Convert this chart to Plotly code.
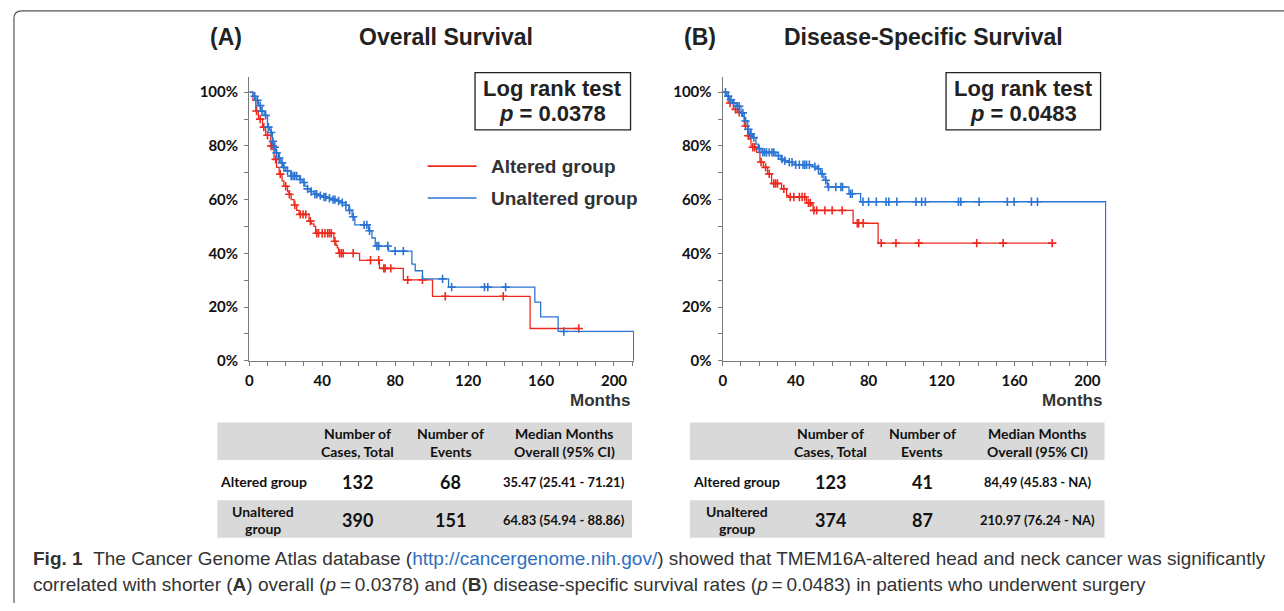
import numpy as np
import plotly.graph_objects as go

W, H = 1284, 611

# ---------------- Data ----------------
# Panel A: Overall survival (months, % surviving)
os_alt_t = [0, 2, 3.6, 5, 7.3, 9, 11.8, 13.6, 15, 16.4, 18, 19, 21, 21.8, 23, 24.6, 26, 27.3,
            32.8, 34, 35.5, 36.4, 46.4, 47.5, 48.3, 49, 60.5, 71.4, 84.5, 100.5, 154]
os_alt_s = [100, 97, 93, 90, 87, 84, 80, 75, 72, 69.5, 67, 65, 63, 62, 60, 58, 56, 54.5,
            52, 51, 50, 47.5, 44.5, 43, 42, 40, 37.4, 34.4, 30.1, 24, 12]
os_alt_end = 180.7
os_alt_cens = [4, 6, 8, 10, 12, 13, 14.5, 17, 20, 22, 25, 28, 29.5, 31, 33.5, 37, 38, 40, 41.5,
               43, 44, 45, 47, 49.5, 50.5, 51.5, 57, 66.5, 71, 73.8, 74.5, 77.6, 86.9, 95,
               107.5, 139.3, 180.7]

os_unalt_t = [0, 2, 3.6, 5, 6.4, 8.2, 10, 11, 11.8, 12.7, 13.6, 14.6, 16, 17.3, 18.5, 20, 22.8,
              27.5, 29.1, 30.5, 31.9, 33.5, 35.5, 38, 40, 43, 45.5, 48, 50, 52.8, 54.6, 56.4,
              57.9, 65.5, 67.3, 69.1, 76.4, 89.2, 91, 95, 109.3, 156.6, 159.8, 169.4, 210.8]
os_unalt_s = [100, 98.5, 97, 95, 93, 91.4, 87, 86, 85, 81.7, 79.5, 77.4, 75.5, 73.7, 72, 70.7,
              68.8, 67.5, 66.4, 65, 64, 63, 62, 61.5, 61, 60.5, 60, 59.5, 58.9, 57.9, 56, 53.6,
              50.6, 48.4, 45.7, 42.7, 40.8, 36, 33.5, 30.5, 27.4, 21.8, 16.3, 10.9, 0]
os_unalt_end = 210.8
os_unalt_cens = [3, 4.5, 6, 7, 9, 10.5, 12, 13, 14, 15, 16.5, 18, 19, 21, 23, 24, 25, 26, 28, 30,
                 32, 34, 36, 37, 39, 41, 42, 44, 46, 47, 49, 51, 53, 55, 57, 63, 64.5, 66, 70,
                 71, 76, 80, 84.5, 106, 111, 129, 130.8, 140.6, 172.5]

# Panel B: Disease-specific survival
dss_alt_t = [0, 3, 5.8, 8, 10.4, 11.8, 13.7, 15.5, 18.6, 20.4, 22.3, 24.6, 26.8, 32.3, 35, 36,
             46, 48.7, 49.6, 71.5, 85.2]
dss_alt_s = [100, 96, 93.6, 92.5, 91, 87.4, 83.8, 79.5, 77.6, 74, 72, 69.6, 66, 64, 61.6, 61,
             58.8, 58, 56, 51.2, 43.8]
dss_alt_end = 180.7
dss_alt_cens = [4, 7, 9, 12.5, 14, 15, 16.5, 17.5, 21, 23.5, 25.5, 28, 29, 30, 33.5, 37, 39, 42,
                43.5, 45, 47, 48, 50, 51.5, 56, 60, 65.5, 73.8, 74.5, 77, 86.9, 95, 107.5,
                139.3, 153.8, 180.7]

dss_unalt_t = [0, 2, 3.6, 5.5, 7.3, 10, 11.8, 13.7, 15, 16.4, 18.2, 19.5, 21, 29.1, 31.9, 33.5,
               35.5, 39.2, 49.2, 51.9, 53.7, 55.5, 57.4, 69.2, 75.6, 210]
dss_unalt_s = [100, 98.5, 97.2, 96, 94.8, 92.3, 89.3, 86.2, 84.5, 83.1, 80.7, 79, 77.6, 76.4,
               75.1, 74.5, 73.9, 73, 72.3, 71.5, 69.6, 67.2, 64.7, 62.2, 59.2, 0]
dss_unalt_end = 210
dss_unalt_cens = [1.5, 3, 4.5, 6, 8, 9, 11, 12.5, 14, 15.5, 17, 20, 22, 23, 24, 25.5, 27, 28,
                  30.5, 32.5, 34, 36.5, 38, 40, 42, 44, 45, 46, 47.5, 50.5, 52.5, 54.5, 56.5,
                  58, 62, 64.8, 65.7, 70, 71, 76.9, 80, 84.2, 89.6, 91.1, 95.5, 106, 109.1,
                  111.1, 129.3, 130.6, 140.6, 156.1, 159.8, 169.3, 172.6]

x_ticks = [0, 40, 80, 120, 160, 200]
y_ticks = [0, 20, 40, 60, 80, 100]
y_ticktext = ["0%", "20%", "40%", "60%", "80%", "100%"]

group_names = ["Altered group", "Unaltered group"]
panel_titles = ["Overall Survival", "Disease-Specific Survival"]
panel_letters = ["(A)", "(B)"]
logrank_p = ["0.0378", "0.0483"]

table_header = ["Number of\nCases, Total", "Number of\nEvents", "Median Months\nOverall (95% CI)"]
table_rows = ["Altered group", "Unaltered\ngroup"]
table_A_cases = ["132", "390"]
table_A_events = ["68", "151"]
table_A_median = ["35.47 (25.41 - 71.21)", "64.83 (54.94 - 88.86)"]
table_B_cases = ["123", "374"]
table_B_events = ["41", "87"]
table_B_median = ["84,49 (45.83 - NA)", "210.97 (76.24 - NA)"]

# ---------------- Style ----------------
RED = "#ee2a1e"
BLUE = "#2b74d3"
AXIS = "#7a7a7a"
TXT = "#222222"
GRAY = "#d9d9d9"
ARIAL = "Liberation Sans, Arial, sans-serif"
CAL = "Lato, sans-serif"


def px(x):
    return x / W


def py(y):
    return 1 - y / H


fig = go.Figure()


def add_km(t, s, end, cens, color, xa, ya):
    t = list(t)
    s = list(s)
    xs = t + [end]
    ys = s + [s[-1]]
    fig.add_trace(go.Scatter(x=xs, y=ys, mode="lines", line=dict(color=color, width=1.3, shape="hv"),
                             xaxis=xa, yaxis=ya, showlegend=False, hoverinfo="skip"))
    ta = np.array(t)
    sa = np.array(s)
    c = np.array(cens)
    idx = np.searchsorted(ta, c, side="right") - 1
    cy = sa[idx]
    fig.add_trace(go.Scatter(x=c, y=cy, mode="markers",
                             marker=dict(symbol="cross-thin", size=6, line=dict(color=color, width=1.6)),
                             xaxis=xa, yaxis=ya, showlegend=False, hoverinfo="skip", cliponaxis=False))


add_km(os_alt_t, os_alt_s, os_alt_end, os_alt_cens, RED, "x", "y")
add_km(os_unalt_t, os_unalt_s, os_unalt_end, os_unalt_cens, BLUE, "x", "y")
add_km(dss_alt_t, dss_alt_s, dss_alt_end, dss_alt_cens, RED, "x2", "y2")
add_km(dss_unalt_t, dss_unalt_s, dss_unalt_end, dss_unalt_cens, BLUE, "x2", "y2")


def xaxis_cfg(dom, rng, anchor):
    return dict(domain=dom, range=rng, anchor=anchor, tickvals=x_ticks,
                ticktext=["<b>%d</b>" % v for v in x_ticks],
                ticks="outside", ticklen=4, tickwidth=1, tickcolor=AXIS,
                showline=True, linecolor=AXIS, linewidth=1.3, showgrid=False, zeroline=False,
                minor=dict(tick0=0, dtick=10, ticks="outside", ticklen=4, tickcolor=AXIS, showgrid=False),
                tickfont=dict(family=CAL, size=15, color="#111"), ticklabelstandoff=2, fixedrange=True)


def yaxis_cfg(dom, rng, anchor):
    return dict(domain=dom, range=rng, anchor=anchor, tickvals=y_ticks,
                ticktext=["<b>%s</b>" % t for t in y_ticktext],
                ticks="outside", ticklen=4, tickwidth=1, tickcolor=AXIS,
                showline=True, linecolor=AXIS, linewidth=1.3, showgrid=False, zeroline=False,
                minor=dict(tick0=0, dtick=10, ticks="outside", ticklen=4, tickcolor=AXIS, showgrid=False),
                tickfont=dict(family=CAL, size=15, color="#111"), ticklabelstandoff=3, fixedrange=True)


ydom = [py(365.5), py(78.5)]
fig.update_layout(
    autosize=True, margin=dict(l=0, r=0, t=0, b=0),
    paper_bgcolor="white", plot_bgcolor="white", showlegend=False,
    xaxis=xaxis_cfg([px(246), px(632)], [0, 211], "y"),
    yaxis=yaxis_cfg(ydom, [0, 105.5], "x"),
    xaxis2=xaxis_cfg([px(721), px(1106)], [0, 210.5], "y2"),
    yaxis2=yaxis_cfg(ydom, [0, 105.5], "x2"),
)

ann = []
shapes = []


def text(x, y, s, size, family=ARIAL, color=TXT, xanchor="center", bold=True):
    ann.append(dict(x=px(x), y=py(y), xref="paper", yref="paper", text=("<b>%s</b>" % s) if bold else s,
                    showarrow=False, xanchor=xanchor, yanchor="middle",
                    font=dict(family=family, size=size, color=color)))


# Titles
text(205, 37, panel_letters[0], 23, xanchor="left")
text(443, 37, panel_titles[0], 23)
text(680, 37, panel_letters[1], 23, xanchor="left")
text(922, 37, panel_titles[1], 23)

# Log rank boxes
for (x0, x1), p in zip([(472.5, 628.5), (945, 1100)], logrank_p):
    shapes.append(dict(type="rect", xref="paper", yref="paper", x0=px(x0), x1=px(x1), y0=py(131.5), y1=py(73.5),
                       line=dict(color="#222", width=1.3), fillcolor="rgba(0,0,0,0)"))
    cx = (x0 + x1) / 2
    text(cx, 89.5, "Log rank test", 22)
    text(cx, 115.5, "<i>p</i> = " + p, 22)

# Legend (panel A)
for (yy, col, name) in [(168.3, RED, group_names[0]), (200.7, BLUE, group_names[1])]:
    shapes.append(dict(type="line", xref="paper", yref="paper", x0=px(425), x1=px(474), y0=py(yy), y1=py(yy),
                       line=dict(color=col, width=1.6)))
    text(487, yy, name, 19, color="#333", xanchor="left")

# Months labels
text(630, 406, "Months", 17, color="#333", xanchor="right")
text(1103, 406, "Months", 17, color="#333", xanchor="right")


# Tables
def table(x0, x1, cols, cases, events, median):
    shapes.append(dict(type="rect", xref="paper", yref="paper", x0=px(x0), x1=px(x1), y0=py(466), y1=py(428),
                       line=dict(width=0), fillcolor=GRAY, layer="below"))
    shapes.append(dict(type="rect", xref="paper", yref="paper", x0=px(x0), x1=px(x1), y0=py(545), y1=py(507),
                       line=dict(width=0), fillcolor=GRAY, layer="below"))
    for cx, h in zip(cols[1:], table_header):
        l1, l2 = h.split("\n")
        text(cx, 439, l1, 14, family=CAL, color="#111")
        text(cx, 457, l2, 14, family=CAL, color="#111")
    # row 1
    text(cols[0], 488, table_rows[0], 14, family=CAL, color="#111")
    text(cols[1], 488, cases[0], 18, family=CAL, color="#111")
    text(cols[2], 488, events[0], 18, family=CAL, color="#111")
    text(cols[3], 488, median[0], 13, family=CAL, color="#111")
    # row 2
    r1, r2 = table_rows[1].split("\n")
    text(cols[0], 518, r1, 14, family=CAL, color="#111")
    text(cols[0], 536, r2, 14, family=CAL, color="#111")
    text(cols[1], 527, cases[1], 18, family=CAL, color="#111")
    text(cols[2], 527, events[1], 18, family=CAL, color="#111")
    text(cols[3], 527, median[1], 13, family=CAL, color="#111")


table(214, 630, [260, 355, 448, 562], table_A_cases, table_A_events, table_A_median)
table(688, 1104, [735, 829, 921, 1037], table_B_cases, table_B_events, table_B_median)

# Caption
CAPF = "Liberation Sans Narrow, Arial Narrow, Liberation Sans, sans-serif"
line1 = ("<b>Fig. 1</b>\u00a0\u00a0The Cancer Genome Atlas database (<span style='color:#2f6fc0'>"
         "http://cancergenome.nih.gov/</span>) showed that TMEM16A-altered head and neck cancer was significantly")
line2 = ("correlated with shorter (<b>A</b>) overall (<i>p</i>\u2009=\u20090.0378) and (<b>B</b>) "
         "disease-specific survival rates (<i>p</i>\u2009=\u20090.0483) in patients who underwent surgery")
text(27, 566, line1, 19, family=CAPF, color="#333", xanchor="left", bold=False)
text(27, 592, line2, 19, family=CAPF, color="#333", xanchor="left", bold=False)

# Frame border with rounded corner
r = 8
shapes.append(dict(type="path", xref="paper", yref="paper",
                   path="M %f,%f L %f,%f Q %f,%f %f,%f L %f,%f" % (
                       px(10), py(611), px(10), py(11 + r), px(10), py(11), px(10 + r), py(11), px(1284), py(11)),
                   line=dict(color="#555", width=1.2)))

fig.update_layout(annotations=ann, shapes=shapes)
css_js = ("var s=document.documentElement.style;s.margin='0';s.padding='0';s.overflow='hidden';"
          "var b=document.body.style;b.margin='0';b.padding='0';b.overflow='hidden';"
          "var gd=document.getElementById('{plot_id}');gd.style.width='100vw';gd.style.height='100vh';"
          "Plotly.Plots.resize(gd);")
fig.write_html("out.html", default_width="100vw", default_height="100vh",
               config={"displayModeBar": False, "responsive": True}, post_script=css_js)
